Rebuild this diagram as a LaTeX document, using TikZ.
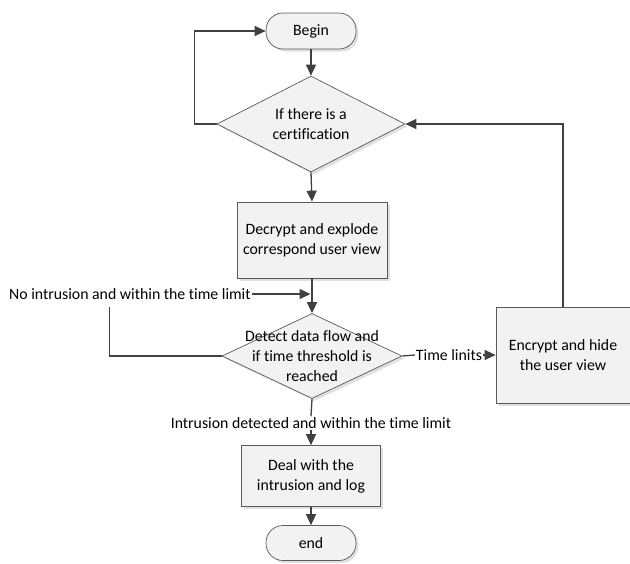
\documentclass[tikz,border=0pt]{standalone}
\usepackage{fontspec}
\setmainfont{Carlito}[Ligatures=NoCommon]
\usetikzlibrary{arrows.meta,shapes.geometric,shadows}
\definecolor{ln}{HTML}{404040}
\definecolor{bd}{HTML}{5A5A5A}
\definecolor{fl}{HTML}{F2F2F2}
\begin{document}
\begin{tikzpicture}[x=1pt,y=-1pt,
  font=\fontsize{15.8}{20}\selectfont,
  shad/.style={drop shadow={shadow xshift=2.5pt, shadow yshift=-2.5pt, fill=black!12, opacity=1}},
  proc/.style={draw=bd, line width=0.7pt, fill=fl, align=center, inner sep=2pt, shad},
  term/.style={draw=bd, line width=0.7pt, fill=fl, rounded corners=17pt, align=center, shad},
  dia/.style={diamond, draw=bd, line width=0.7pt, fill=fl, inner sep=0pt, shad},
  lbl/.style={inner sep=1pt},
  conn/.style={draw=ln, line width=1.3pt},
  arr/.style={conn, -{Triangle[length=11pt,width=10pt]}}]
\useasboundingbox (0,0) rectangle (630,563);
% nodes
\node[term, minimum width=90pt, minimum height=36pt] (begin) at (311,31) {Begin};
\node[dia, minimum width=188pt, minimum height=96pt] (d1) at (311,124) {};
\node[align=center] (t1) at (d1) {If there is a\\certification};
\node[proc, minimum width=150pt, minimum height=76pt] (dec) at (312,240) {Decrypt and explode\\correspond user view};
\node[dia, minimum width=180pt, minimum height=85pt] (d2) at (312,356) {};
\node[align=center] (t2) at (d2) {Detect data flow and\\if time threshold is\\reached};
\node[proc, minimum width=134pt, minimum height=96pt] (enc) at (563,355) {Encrypt and hide\\the user view};
\node[proc, minimum width=139pt, minimum height=61pt] (deal) at (311,476) {Deal with the\\intrusion and log};
\node[term, minimum width=90pt, minimum height=35pt] (end) at (311,543) {end};
% labels
\node[lbl, anchor=west] (lno) at (8,294) {No intrusion and within the time limit};
\node[lbl] (lint) at (311,423) {Intrusion detected and within the time limit};
\node[lbl] (ltime) at (449,355) {Time linits};
% connectors
\draw[arr] (begin.south) -- (d1.north);
\draw[arr] (d1.west) -- ++(-22,0) |- (begin.west);
\draw[arr] (d1.south) -- (dec.north);
\draw[arr] (dec.south) -- (d2.north);
\draw[arr] (lno.east) -- ([xshift=-1.5pt]dec.south |- lno.east);
\draw[conn] (d2.west) -- ++(-112,0) -- ++(0,-49);
\draw[conn] (d2.east) -- (ltime.west);
\draw[arr] (ltime.east) -- (enc.west);
\draw[arr] (enc.north) |- (d1.east);
\draw[conn] (d2.south) -- (lint.north);
\draw[arr] (lint.south) -- (deal.north);
\draw[arr] (deal.south) -- (end.north);
\end{tikzpicture}
\end{document}
